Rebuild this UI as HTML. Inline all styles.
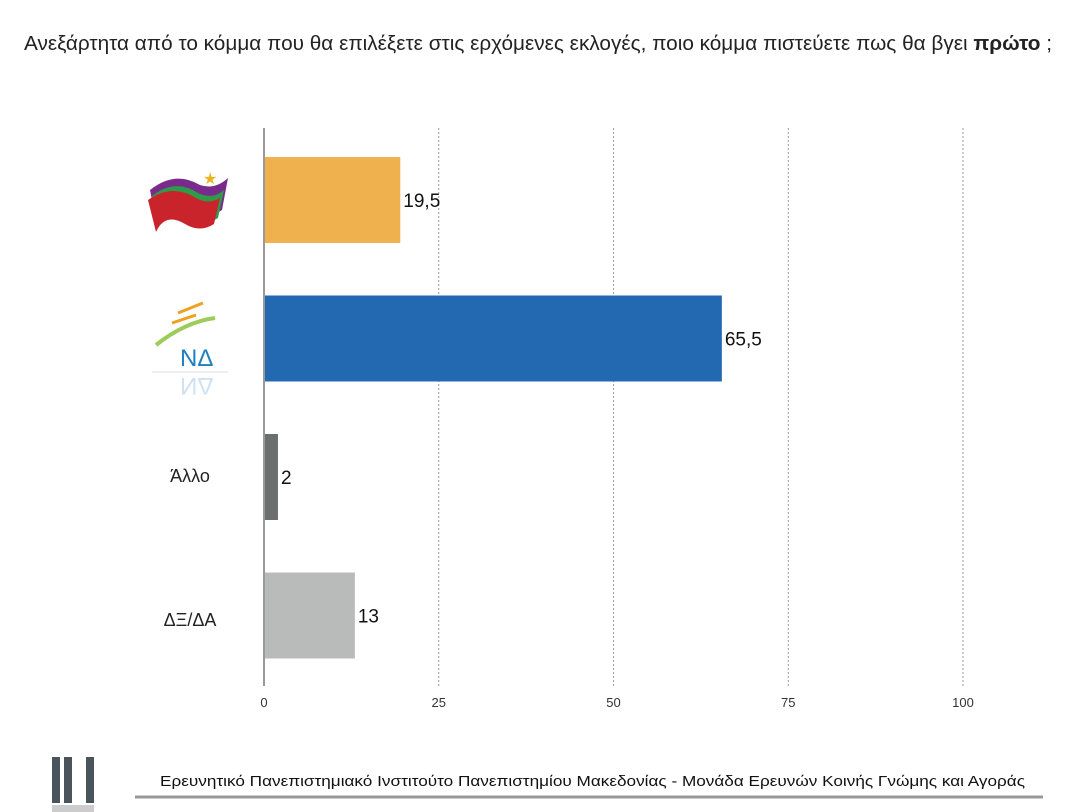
<!DOCTYPE html>
<html><head><meta charset="utf-8"><style>
body{margin:0;width:1077px;height:812px;background:#fff;overflow:hidden;font-family:"Liberation Sans",sans-serif;}
</style></head><body>
<svg id="chart" width="1077" height="812" style="position:absolute;left:0;top:0">
<text x="24" y="50" font-size="20" fill="#222" textLength="1028" lengthAdjust="spacingAndGlyphs">Ανεξάρτητα από το κόμμα που θα επιλέξετε στις ερχόμενες εκλογές, ποιο κόμμα πιστεύετε πως θα βγει <tspan font-weight="bold">πρώτο</tspan> ;</text>
<g id="grid"></g><g id="bars"></g>
<g>
<path d="M150 190 Q175 170 200 185 Q215 190 228 178 L222 210 Q205 222 190 212 Q170 200 155 215 Z" fill="#7a2a8a"/>
<path d="M152 196 Q175 178 198 193 Q213 200 224 190 L218 218 Q203 228 188 218 Q168 206 156 222 Z" fill="#2e9a4a"/>
<path d="M148 200 Q172 183 196 198 Q208 205 220 198 L214 224 Q200 233 185 224 Q165 212 156 232 Z" fill="#c9242b"/>
<text x="203" y="184" font-size="16" fill="#e8b51a">★</text>
</g>
<g>
<path d="M178 313 L203 303 M172 323 L196 315" stroke="#f0a020" stroke-width="3" fill="none"/>
<path d="M156 345 Q185 322 215 318" stroke="#9ccc5a" stroke-width="4" fill="none"/>
<text x="180" y="366" font-size="24" fill="#1e7fc2">ΝΔ</text>
<line x1="152" y1="372" x2="228" y2="372" stroke="#ddd"/>
<text x="180" y="378" font-size="24" fill="#cfe2f2" transform="scale(1,-1) translate(0,-756)">ΝΔ</text>
</g>
<text x="190" y="482" font-size="18" text-anchor="middle" fill="#222">Άλλο</text>
<text x="190" y="626" font-size="18" text-anchor="middle" fill="#222">ΔΞ/ΔΑ</text>
<g>
<rect x="52" y="757" width="8" height="46" fill="#4a545c"/><rect x="64" y="757" width="8" height="46" fill="#4a545c"/><rect x="86" y="757" width="8" height="46" fill="#4a545c"/>
<rect x="52" y="805" width="42" height="7" fill="#ccc"/>
<line x1="135" y1="797" x2="1043" y2="797" stroke="#999" stroke-width="3"/>
<text x="160" y="786" font-size="15" fill="#111" textLength="865" lengthAdjust="spacingAndGlyphs">Ερευνητικό Πανεπιστημιακό Ινστιτούτο Πανεπιστημίου Μακεδονίας - Μονάδα Ερευνών Κοινής Γνώμης και Αγοράς</text>
</g>
</svg>
<script>
const categories=["ΣΥΡΙΖΑ","ΝΔ","Άλλο","ΔΞ/ΔΑ"];
const values=[19.5,65.5,2,13];
const valueLabels=["19,5","65,5","2","13"];
const colors=["#efb04e","#2369b1","#6b706f","#b8bbba"];
const ticks=[0,25,50,75,100];
const x0=264,x1=963,yTop=128,yBot=686,band=138.5,barH=86,firstY=157;
const xs=v=>x0+(x1-x0)*v/100;
const ns="http://www.w3.org/2000/svg";
const grid=document.getElementById('grid'),bars=document.getElementById('bars');
ticks.forEach(t=>{
  if(t>0){const l=document.createElementNS(ns,'line');
  l.setAttribute('x1',xs(t));l.setAttribute('x2',xs(t));l.setAttribute('y1',yTop);l.setAttribute('y2',yBot);
  l.setAttribute('stroke','#999');l.setAttribute('stroke-dasharray','2,2');
  
  
  grid.appendChild(l);}
  const tx=document.createElementNS(ns,'text');
  tx.setAttribute('x',xs(t));tx.setAttribute('y',707);tx.setAttribute('font-size','13');tx.setAttribute('text-anchor','middle');tx.setAttribute('fill','#333');
  tx.textContent=t;
  
  
  grid.appendChild(tx);
});
const ax=document.createElementNS(ns,'line');
ax.setAttribute('x1',x0);ax.setAttribute('x2',x0);ax.setAttribute('y1',yTop);ax.setAttribute('y2',yBot);ax.setAttribute('stroke','#333');


grid.appendChild(ax);
values.forEach((v,i)=>{
  const y=firstY+i*band;
  const r=document.createElementNS(ns,'rect');
  r.setAttribute('x',x0+1);r.setAttribute('y',y);r.setAttribute('width',xs(v)-x0-1);r.setAttribute('height',barH);r.setAttribute('fill',colors[i]);
  
  
  bars.appendChild(r);
  const t=document.createElementNS(ns,'text');
  t.setAttribute('x',xs(v)+3);t.setAttribute('y',y+barH/2+7);t.setAttribute('font-size','19');t.setAttribute('fill','#111');
  t.textContent=valueLabels[i];
  
  
  bars.appendChild(t);
});
</script>
</body></html>
